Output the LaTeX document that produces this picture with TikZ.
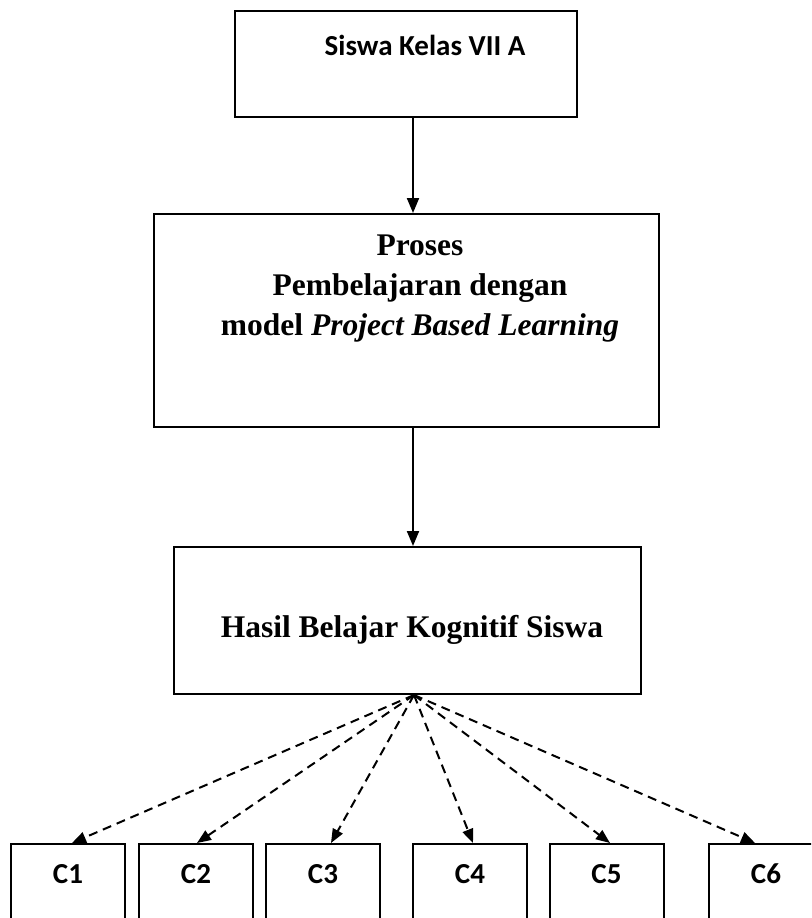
\documentclass[tikz,border=0pt]{standalone}
\usepackage{fontspec}
\setmainfont{Liberation Serif}
\newfontfamily\carl{Carlito}
\usetikzlibrary{arrows.meta}
\begin{document}
\begin{tikzpicture}[x=1pt,y=-1pt,
  box/.style={draw, line width=2pt, rectangle, inner sep=0pt},
  cbox/.style={draw, line width=2pt, rectangle, inner sep=0pt, anchor=north, minimum width=114pt, minimum height=100pt},
  ctext/.style={font=\carl\bfseries\fontsize{29}{34}\selectfont},
  ttext/.style={font=\bfseries\fontsize{31.5}{40}\selectfont, align=center},
  solidarrow/.style={line width=2pt, -{Triangle[length=15pt,width=12pt]}},
  dasharrow/.style={line width=2pt, dash pattern=on 9pt off 6pt, -{Triangle[length=14pt,width=11pt]}}
]
\useasboundingbox (0,0) rectangle (811,918);
\clip (0,0) rectangle (811,918);
\node[box, minimum width=342pt, minimum height=106pt] (siswa) at (406,64) {};
\node[font=\carl\bfseries\fontsize{29}{34}\selectfont] (siswat) at (425,45) {Siswa Kelas VII A};
\node[box, minimum width=505pt, minimum height=213pt] (proses) at (406.5,320.5) {};
\node[ttext] (prosest) at (420,289) {Proses\\Pembelajaran dengan\\model \textit{Project Based Learning}};
\node[box, minimum width=467pt, minimum height=147pt] (hasil) at (407.5,620.5) {};
\node[ttext] (hasilt) at (412,630) {Hasil Belajar Kognitif Siswa};
\coordinate (hs) at (414,695);
\draw[solidarrow] (siswa.south -| 413,0) -- (proses.north -| 413,0);
\draw[solidarrow] (proses.south -| 413,0) -- (hasil.north -| 413,0);
\node[cbox] (c1) at (68,843) {};
\node[cbox] (c2) at (196,843) {};
\node[cbox] (c3) at (323,843) {};
\node[cbox] (c4) at (470,843) {};
\node[cbox] (c5) at (606.5,843) {};
\node[cbox] (c6) at (766,843) {};
\foreach \i in {1,...,6}{
  \node[ctext] (l\i) at ([yshift=-31pt]c\i.north) {C\i};
}
\draw[dasharrow] (hs) -- (c1.north -| 72,0);
\draw[dasharrow] (hs) -- (c2.north -| 197,0);
\draw[dasharrow] (hs) -- (c3.north -| 331,0);
\draw[dasharrow] (hs) -- (c4.north -| 473,0);
\draw[dasharrow] (hs) -- (c5.north -| 610,0);
\draw[dasharrow] (hs) -- (c6.north -| 755,0);
\end{tikzpicture}
\end{document}
